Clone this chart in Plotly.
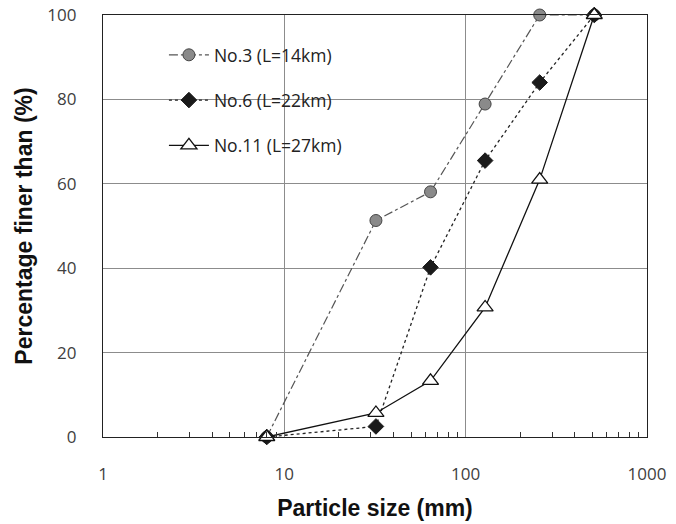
import plotly.graph_objects as go

sizes = [8, 32, 64, 128, 256, 512]
no3 = [0, 51.3, 58.1, 78.9, 100, 100]
no6 = [0, 2.5, 40.2, 65.5, 84, 100]
no11 = [0, 5.7, 13.3, 30.7, 61, 100]
names = ["No.3 (L=14km)", "No.6 (L=22km)", "No.11 (L=27km)"]
x_ticks = [1, 10, 100, 1000]
x_ticktext = ["1", "10", "100", "1000"]
x_minor = [2, 3, 4, 5, 6, 7, 8, 9, 20, 30, 40, 50, 60, 70, 80, 90,
           200, 300, 400, 500, 600, 700, 800, 900]

fig = go.Figure()
fig.add_trace(go.Scatter(x=sizes, y=no3, name=names[0], mode="lines+markers",
    legendgroup="a", cliponaxis=False,
    line=dict(color="#555555", width=1.2, dash="dashdot"),
    marker=dict(symbol="circle", size=12, color="#8a8a8a", line=dict(color="#444444", width=1))))
fig.add_trace(go.Scatter(x=sizes, y=no6, name=names[1], mode="lines+markers",
    legendgroup="b", cliponaxis=False,
    line=dict(color="#222222", width=1.3, dash="dot"),
    marker=dict(symbol="diamond", size=12, color="#1a1a1a", line=dict(color="#1a1a1a", width=1))))
fig.add_trace(go.Scatter(x=sizes, y=no11, name=names[2], mode="lines+markers",
    legendgroup="c", cliponaxis=False,
    line=dict(color="#111111", width=1.3),
    marker=dict(symbol="triangle-up", size=14, color="white", line=dict(color="#111111", width=1.3))))

tickfont = dict(family="Open Sans, Noto Sans, sans-serif", size=17, color="#404040")

fig.update_layout(
    width=676, height=524,
    margin=dict(l=103, r=29, t=15, b=87),
    paper_bgcolor="white", plot_bgcolor="white",
    showlegend=True,
    legend=dict(x=0.112, y=0.948, xanchor="left", yanchor="top",
                bgcolor="rgba(255,255,255,0)", traceorder="grouped", tracegroupgap=19.5,
                font=dict(family="Open Sans, Noto Sans, sans-serif", size=17.5, color="#222222"),
                itemwidth=40),
    xaxis=dict(type="log", range=[0, 3], automargin=False,
               tickvals=x_ticks, ticktext=x_ticktext, ticklabeloverflow="allow",
               showgrid=True, gridcolor="#8c8c8c", gridwidth=1,
               showline=True, linecolor="#222222", linewidth=1.3, mirror=True,
               ticks="outside", ticklen=21, tickcolor="rgba(0,0,0,0)",
               minor=dict(ticks="inside", ticklen=5, tickcolor="#333333", showgrid=False,
                          tickvals=x_minor),
               tickfont=tickfont,
               title=dict(text="Particle size (mm)",
                          font=dict(family="Liberation Sans, Arial, sans-serif", size=23,
                                    color="#111111", weight="bold"), standoff=16),
               zeroline=False),
    yaxis=dict(range=[0, 100], dtick=20, automargin=False, ticklabeloverflow="allow",
               showgrid=True, gridcolor="#8c8c8c", gridwidth=1,
               showline=True, linecolor="#222222", linewidth=1.3, mirror=True,
               ticks="outside", ticklen=22, tickcolor="rgba(0,0,0,0)",
               tickfont=tickfont,
               title=dict(text="Percentage finer than (%)",
                          font=dict(family="Liberation Sans, Arial, sans-serif", size=23,
                                    color="#111111", weight="bold"), standoff=8),
               zeroline=False),
)

fig.write_html("out.html", config={"displayModeBar": False},
               post_script="document.body.style.margin='0';")
